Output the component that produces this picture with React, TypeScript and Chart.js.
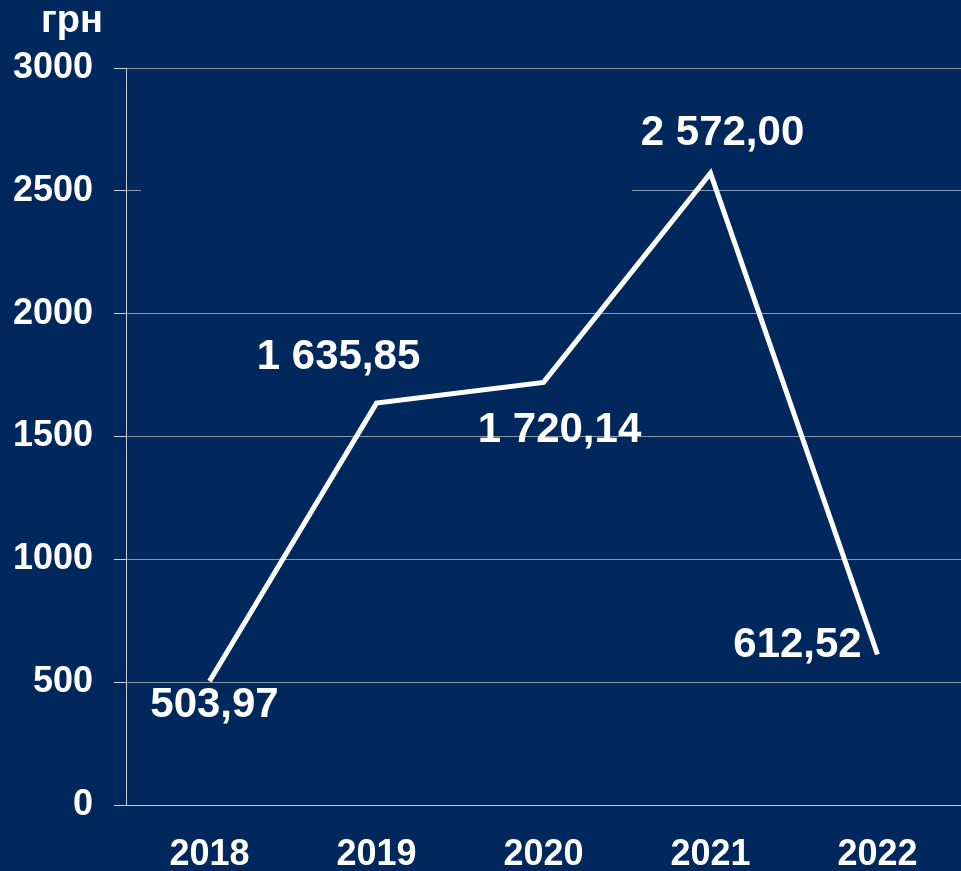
import React, { useEffect, useRef } from "react";
import { Chart, registerables } from "chart.js";

Chart.register(...registerables);

const years = ["2018", "2019", "2020", "2021", "2022"];
const values = [503.97, 1635.85, 1720.14, 2572.0, 612.52];
const yTicks = [0, 500, 1000, 1500, 2000, 2500, 3000];
const unitLabel = "грн";

// label offsets from each point (centre of text), in px
const labelDx = [5, -38, 16, 12, -80];
const labelDy = [24, -46, 48, -40, -9];

const BG = "#00285C";
const FONT = "'Liberation Sans', Arial, Helvetica, sans-serif";

function fmt(v: number): string {
  const [i, d] = v.toFixed(2).split(".");
  const withSp = i.replace(/\B(?=(\d{3})+(?!\d))/g, " ");
  return withSp + "," + d;
}

const labelsPlugin = {
  id: "valueLabels",
  beforeDatasetsDraw(chart: any) {
    // the 2500 grid line is hidden through the middle in the reference
    const { ctx, scales, chartArea } = chart;
    const y = scales.y.getPixelForValue(2500);
    const x0 = chartArea.left + 15;
    const x1 = scales.x.getPixelForValue(2.5) + 5;
    ctx.save();
    ctx.fillStyle = BG;
    ctx.fillRect(x0, y - 2, x1 - x0, 4);
    ctx.restore();
  },
  afterDatasetsDraw(chart: any) {
    const { ctx } = chart;
    const meta = chart.getDatasetMeta(0);
    ctx.save();
    ctx.fillStyle = "#FFFFFF";
    ctx.font = `bold 42px ${FONT}`;
    ctx.textAlign = "center";
    ctx.textBaseline = "middle";
    meta.data.forEach((pt: any, i: number) => {
      ctx.fillText(fmt(values[i]), pt.x + labelDx[i], pt.y + labelDy[i]);
    });
    ctx.font = `bold 38px ${FONT}`;
    ctx.fillText(unitLabel, 72, 22);
    ctx.restore();
  },
};

export default function App() {
  const ref = useRef<HTMLCanvasElement | null>(null);
  useEffect(() => {
    if (!ref.current) return;
    const chart = new Chart(ref.current, {
      type: "line",
      data: {
        labels: years,
        datasets: [
          {
            data: values,
            borderColor: "#FFFFFF",
            borderWidth: 5,
            pointRadius: 0,
            tension: 0,
            fill: false,
          },
        ],
      },
      options: {
        animation: false,
        responsive: false,
        maintainAspectRatio: false,
        layout: { padding: { top: 68, right: 0, left: 0, bottom: 0 } },
        plugins: { legend: { display: false }, tooltip: { enabled: false } },
        scales: {
          x: {
            offset: true,
            grid: { display: false, drawTicks: false },
            border: { display: true, color: "#C8D0E0", width: 1 },
            ticks: {
              color: "#FFFFFF",
              font: { family: FONT, size: 36, weight: "bold" },
              padding: 28,
              maxRotation: 0,
            },
            afterFit(scale: any) {
              scale.height = 66;
            },
          },
          y: {
            min: 0,
            max: 3000,
            afterBuildTicks(scale: any) {
              scale.ticks = yTicks.map((v) => ({ value: v }));
            },
            grid: {
              color: "#8C96AA",
              lineWidth: 1,
              drawTicks: true,
              tickLength: 12,
              tickColor: "#C8D0E0",
            },
            border: { display: true, color: "#C8D0E0", width: 1 },
            ticks: {
              color: "#FFFFFF",
              font: { family: FONT, size: 36, weight: "bold" },
              padding: 21,
              callback: (v: any) => String(v),
            },
            afterFit(scale: any) {
              scale.width = 126;
            },
          },
        },
      },
      plugins: [labelsPlugin],
    });
    return () => chart.destroy();
  }, []);
  return (
    <div
      style={{
        position: "fixed",
        left: 0,
        top: 0,
        width: 961,
        height: 871,
        background: BG,
      }}
    >
      <canvas ref={ref} width={961} height={871} style={{ display: "block" }} />
    </div>
  );
}
